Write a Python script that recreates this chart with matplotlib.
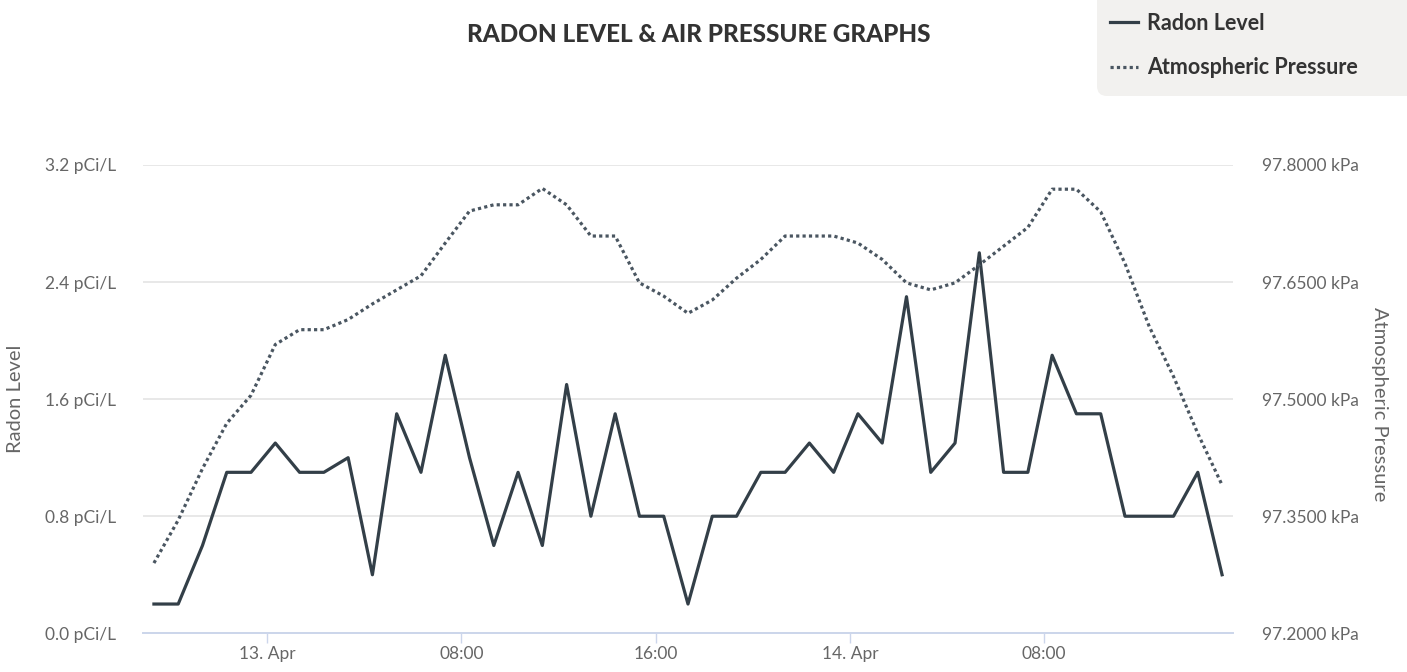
from datetime import datetime, timedelta

import matplotlib
matplotlib.use('Agg')
import matplotlib.pyplot as plt
import matplotlib.dates as mdates
from matplotlib.patches import FancyBboxPatch
from matplotlib.ticker import FuncFormatter, FixedLocator

plt.rcParams['font.family'] = ['Lato', 'DejaVu Sans']

start = datetime(2024, 4, 12, 19, 20)
radon = [0.2, 0.2, 0.6, 1.1, 1.1, 1.3, 1.1, 1.1, 1.2, 0.4,
         1.5, 1.1, 1.9, 1.2, 0.6, 1.1, 0.6, 1.7, 0.8, 1.5,
         0.8, 0.8, 0.2, 0.8, 0.8, 1.1, 1.1, 1.3, 1.1, 1.5,
         1.3, 2.3, 1.1, 1.3, 2.6, 1.1, 1.1, 1.9, 1.5, 1.5,
         0.8, 0.8, 0.8, 1.1, 0.4]
pressure = [97.290, 97.345, 97.411, 97.469, 97.505, 97.570, 97.589, 97.589, 97.602, 97.622,
            97.640, 97.658, 97.700, 97.741, 97.749, 97.749, 97.770, 97.749, 97.709, 97.709,
            97.649, 97.632, 97.610, 97.627, 97.655, 97.679, 97.709, 97.709, 97.709, 97.700,
            97.679, 97.649, 97.640, 97.649, 97.672, 97.696, 97.720, 97.769, 97.769, 97.740,
            97.674, 97.593, 97.529, 97.456, 97.390]
times = [start + timedelta(hours=i) for i in range(len(radon))]

radon_ticks = [0.0, 0.8, 1.6, 2.4, 3.2]
pressure_ticks = [97.2, 97.35, 97.5, 97.65, 97.8]
x_ticks = [datetime(2024, 4, 13, 0), datetime(2024, 4, 13, 8), datetime(2024, 4, 13, 16),
           datetime(2024, 4, 14, 0), datetime(2024, 4, 14, 8)]

line_col = '#333f48'
text_col = '#666666'
W, H = 1407, 672

fig = plt.figure(figsize=(W / 100, H / 100), dpi=100)
ax = fig.add_axes([143 / W, 1 - 633.3 / H, 1090 / W, (633.3 - 165) / H])
ax2 = ax.twinx()

l1, = ax.plot(times, radon, color=line_col, lw=2.3, label='Radon Level')
l2, = ax2.plot(times, pressure, color='#4a5661', lw=2.3, linestyle=(0, (1, 1)),
               label='Atmospheric Pressure')

pad = timedelta(minutes=27)
ax.set_xlim(times[0] - pad, times[-1] + pad)
ax.set_ylim(0, 3.2)
ax2.set_ylim(97.2, 97.8)

ax.set_yticks(radon_ticks)
ax.yaxis.set_major_formatter(FuncFormatter(lambda v, p: f'{v:.1f} pCi/L'))
ax2.set_yticks(pressure_ticks)
ax2.yaxis.set_major_formatter(FuncFormatter(lambda v, p: f'{v:.4f} kPa'))

ax.xaxis.set_major_locator(FixedLocator(mdates.date2num(x_ticks)))


def fmt_x(v, p):
    d = mdates.num2date(v)
    if d.hour == 0:
        return f'{d.day}. {d.strftime("%b")}'
    return d.strftime('%H:%M')


ax.xaxis.set_major_formatter(FuncFormatter(fmt_x))

ax.grid(axis='y', color='#e6e6e6', lw=1.3)
ax.set_axisbelow(True)
for a in (ax, ax2):
    for s in ('top', 'left', 'right'):
        a.spines[s].set_visible(False)
    a.spines['bottom'].set_color('#ccd6eb')
    a.spines['bottom'].set_linewidth(1.3)
ax.tick_params(axis='x', length=7.5, width=1, color='#ccd6eb', labelsize=12.5,
               labelcolor=text_col, pad=2)
ax.tick_params(axis='y', length=0, labelsize=12.5, labelcolor=text_col, pad=19.5)
ax2.tick_params(axis='y', length=0, labelsize=12.5, labelcolor=text_col, pad=21)

ax.set_ylabel('Radon Level', fontsize=14.5, color=text_col)
ax.yaxis.set_label_coords((24 - 143) / 1090, 0.5)
ax2.set_ylabel('Atmospheric Pressure', fontsize=14.5, color=text_col, rotation=270,
               va='bottom')
ax2.yaxis.set_label_coords((1371 - 143) / 1090, 0.49)

fig.text(699 / W, 1 - 34 / H, 'RADON LEVEL & AIR PRESSURE GRAPHS', ha='center', va='center',
         fontsize=17.5, fontweight='black', color='#333333')

# legend background, only the bottom-left corner shows its rounding
bg = FancyBboxPatch((1097 / W, 1 - 96 / H), 330 / W, 130 / H,
                    boxstyle=f'round,pad=0,rounding_size={10 / W}',
                    mutation_aspect=W / H, transform=fig.transFigure,
                    facecolor='#f2f1ef', edgecolor='none', zorder=0)
fig.patches.append(bg)

leg = fig.legend(handles=[l1, l2], loc='upper left', bbox_to_anchor=(1097 / W, 1.0),
                 frameon=False, fontsize=15.5, handlelength=1.3, handletextpad=0.42,
                 labelspacing=1.09, borderpad=0.6, borderaxespad=0)
for t in leg.get_texts():
    t.set_fontweight('bold')
    t.set_color('#333333')

fig.savefig('out.png', dpi=100)
